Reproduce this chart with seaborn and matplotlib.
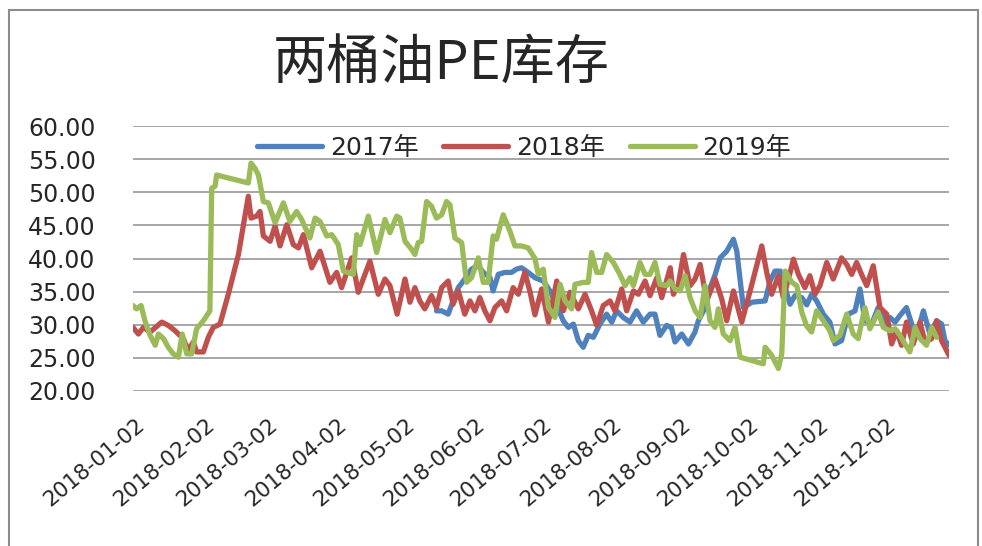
import pandas as pd
import seaborn as sns
import matplotlib.pyplot as plt
import matplotlib.transforms as mtransforms
from matplotlib.patches import Rectangle

# data: days after 2018-01-02 and inventory values
start = pd.Timestamp("2018-01-02")

days_2017 = [135, 137.3, 140.2, 142.4, 144.7, 147.6, 150.6, 153.6, 155.8, 158.8,
             160.2, 162.5, 165.4, 168.4, 170.6, 172.8, 175.8, 178.8, 182.5, 185.5,
             188.5, 191.4, 193.7, 195.9, 198.1, 200.3, 202.5, 204.8, 207.7, 210.7,
             213, 215.1, 218.1, 221.1, 224, 227, 230, 232.2, 234.4, 237.4,
             239.5, 241.1, 244.1, 247.1, 250, 251.5, 253.8, 256, 259, 261.2,
             264.1, 267.1, 268.6, 271.5, 275.3, 281.2, 283.4, 285.6, 287.9, 290.1,
             292.3, 294.5, 297.5, 299.7, 301.9, 304.1, 307.1, 310, 312.3, 315.2,
             318.2, 321.2, 323.4, 325.6, 328.6, 331.5, 334.5, 336.7, 339, 341.2,
             344.1, 346.4, 348.6, 351.6, 354.5, 357.5, 359.7, 361.2, 363]
vals_2017 = [32.1, 32.1, 31.6, 33.6, 35.6, 36.9, 38.4, 38.9, 37.9, 37.1,
             35.1, 37.6, 37.9, 37.9, 38.4, 38.6, 37.9, 37.1, 36.6, 35.1,
             32.9, 30.6, 29.6, 30.1, 27.6, 26.6, 28.4, 28.1, 30.1, 31.6,
             30.4, 32.1, 31.1, 30.4, 32.1, 30.4, 31.6, 31.6, 28.4, 29.9,
             29.6, 27.4, 28.6, 27.1, 28.9, 30.6, 32.1, 34.9, 37.6, 40.1,
             41.1, 42.9, 41.1, 32.6, 33.4, 33.6, 36.6, 38.1, 38.1, 35.6,
             33.1, 34.4, 34.1, 33.0, 34.6, 33.6, 31.6, 30.4, 27.1, 27.6,
             31.6, 32.1, 35.4, 30.6, 30.1, 32.6, 30.4, 31.1, 30.4, 31.4,
             32.6, 30.1, 28.4, 32.1, 28.6, 30.6, 30.1, 27.6, 26.9]

days_2018 = [0, 2.4, 4.6, 7.6, 12.8, 15.7, 18.7, 22.4, 24.6, 26.8,
             28.3, 31.3, 33.5, 35.7, 38.7, 42.4, 46.9, 51.3, 52.5, 55,
             56.5, 58, 61, 63.2, 65.4, 68.4, 71.3, 73.6, 75.8, 79.5,
             83.2, 87.6, 90.6, 92.8, 97.3, 100.2, 105.4, 109.1, 112.1, 114.3,
             117.5, 121, 123.2, 125.4, 127.6, 129.8, 132.8, 135, 137.3, 140.2,
             142.4, 144.7, 147.6, 149.9, 152.1, 154.3, 156.5, 158.8, 161, 164,
             166.2, 169.1, 171.4, 174.3, 176.6, 178.8, 181.8, 184.8, 188.5, 191.4,
             194.4, 198.1, 201.1, 204, 206.3, 209.2, 212.2, 214.4, 217.4, 219.6,
             222.6, 224.8, 227.8, 230, 233, 235.2, 239, 240.4, 242.6, 244.9,
             247.8, 250, 252.3, 255.2, 259, 261.9, 264.1, 267.1, 270.8, 275.3,
             279.7, 281.9, 284.1, 287.1, 289.3, 291.6, 293.8, 296, 298.9, 301.1,
             303.4, 305.6, 308.6, 311.5, 315.2, 317.5, 319.7, 321.9, 324.1, 326.4,
             329.3, 332.3, 335.3, 337.5, 339.7, 341.9, 344.1, 347.1, 350.1, 352.3,
             355.3, 357.5, 359.7, 363]
vals_2018 = [29.6, 28.6, 29.6, 28.9, 30.4, 29.9, 29.1, 27.9, 26.1, 27.4,
             25.9, 25.9, 28.1, 29.6, 30.1, 34.6, 40.6, 49.4, 46.1, 46.4,
             47.1, 43.4, 42.6, 44.9, 41.9, 45.1, 42.1, 41.6, 43.6, 38.6,
             41.1, 36.4, 37.9, 35.6, 40.1, 34.9, 39.6, 34.6, 36.9, 35.9,
             31.6, 36.9, 33.4, 35.6, 33.6, 32.4, 34.4, 32.6, 35.6, 36.6,
             33.1, 35.1, 31.6, 33.6, 32.1, 34.1, 32.1, 30.6, 32.6, 33.6,
             32.1, 35.6, 34.6, 37.9, 35.0, 31.5, 35.4, 30.4, 36.6, 32.1,
             34.9, 32.4, 34.6, 32.1, 29.9, 32.9, 33.6, 32.1, 35.4, 32.1,
             35.1, 34.6, 36.6, 34.4, 37.1, 34.1, 38.6, 34.6, 36.1, 40.6,
             35.9, 36.9, 39.1, 33.6, 36.9, 33.9, 30.6, 35.1, 30.4, 36.1,
             41.9, 37.9, 34.6, 37.4, 34.1, 36.9, 39.9, 37.6, 35.6, 37.4,
             34.6, 35.9, 39.4, 36.9, 40.1, 39.1, 37.6, 39.4, 37.6, 35.9,
             38.9, 32.6, 31.6, 27.1, 29.1, 26.9, 30.4, 27.1, 30.4, 27.4,
             27.9, 30.6, 27.6, 25.4]

days_2019 = [0, 1.5, 3.6, 5.3, 7.6, 9.9, 11.3, 13.6, 15.7, 17.9,
             20.2, 21.9, 23.9, 26.1, 28.3, 31.3, 34.2, 35, 36.5, 37.2,
             51.3, 52.5, 54.3, 55.8, 58, 60.2, 63.2, 66.9, 69.8, 72.8,
             75, 78.7, 81, 83.2, 86.2, 88.4, 91.3, 93.6, 98, 99.5,
             101, 104.7, 108.4, 112.1, 114.3, 117.3, 118.7, 121, 123.9, 125.4,
             126.9, 128.4, 130.6, 132.8, 135, 137.3, 139.5, 141, 143.2, 146.2,
             148.4, 150.6, 153.6, 155.8, 158, 160.2, 161.7, 164.7, 167.7, 169.9,
             172.8, 175.8, 178.8, 180.3, 182.5, 184.8, 187.7, 190, 192.2, 195.1,
             196.6, 200.3, 202.5, 204, 206.3, 208.5, 210.7, 213.7, 216.6, 218.9,
             221.1, 222.6, 225.5, 227.8, 230, 232.2, 234.4, 237.4, 238.9, 241.1,
             243.4, 245.6, 247.8, 250.1, 252.3, 254.5, 256.7, 258.9, 260.4, 262.6,
             265.6, 267.8, 270.1, 275.3, 280.4, 281.2, 284.1, 287.1, 288.6, 290.1,
             293.1, 295.3, 297.5, 299.7, 301.9, 304.1, 307.1, 310, 311.5, 314.5,
             317.5, 320.4, 322.6, 325.6, 327.8, 331.5, 333.8, 336.7, 339, 341.2,
             343.4, 345.6, 347.9, 350.1, 353, 355.3, 357.5]
vals_2019 = [32.9, 32.4, 32.9, 30.6, 28.4, 26.9, 28.6, 27.9, 26.6, 25.6,
             25.1, 28.6, 25.6, 25.6, 29.4, 30.6, 32.1, 50.6, 50.9, 52.6,
             51.4, 54.4, 53.6, 52.6, 48.6, 48.4, 45.4, 48.4, 45.6, 47.1,
             45.9, 43.1, 46.1, 45.6, 43.4, 43.6, 42.1, 38.1, 37.6, 43.6,
             42.1, 46.4, 40.9, 45.9, 43.9, 46.4, 46.1, 42.6, 41.4, 40.6,
             42.4, 42.6, 48.6, 47.9, 46.1, 46.6, 48.6, 48.1, 43.1, 42.4,
             36.4, 37.1, 40.1, 36.4, 36.4, 43.4, 42.9, 46.6, 44.1, 41.9,
             41.9, 41.6, 40.0, 37.6, 38.4, 32.6, 31.1, 36.1, 33.6, 32.4,
             36.1, 36.4, 36.4, 40.9, 37.9, 37.9, 40.6, 39.4, 37.6, 35.9,
             37.1, 35.9, 39.4, 37.6, 37.6, 39.4, 36.1, 35.9, 36.6, 35.4,
             35.1, 37.4, 34.1, 32.1, 31.1, 35.9, 30.6, 29.6, 32.4, 28.6,
             27.6, 29.6, 25.1, 24.6, 24.1, 26.6, 25.4, 23.4, 25.6, 38.1,
             36.4, 35.9, 31.9, 29.8, 28.9, 32.1, 30.6, 29.1, 27.6, 28.4,
             31.6, 28.6, 27.9, 32.6, 29.4, 31.9, 29.6, 29.1, 29.4, 28.4,
             27.1, 25.9, 29.6, 27.9, 26.9, 29.6, 28.1]

series_names = ["2017年", "2018年", "2019年"]
colors = ["#4F81BD", "#C0504D", "#9BBB59"]
y_ticks = [20, 25, 30, 35, 40, 45, 50, 55, 60]
x_ticks = pd.date_range("2018-01-02", periods=12, freq=pd.DateOffset(months=1))

frames = []
for name, d, v in zip(series_names, [days_2017, days_2018, days_2019],
                      [vals_2017, vals_2018, vals_2019]):
    frames.append(pd.DataFrame({"date": start + pd.to_timedelta(d, unit="D"),
                                "value": v, "year": name}))
df = pd.concat(frames, ignore_index=True)

sns.set_theme(style="white")
plt.rcParams["font.family"] = ["DejaVu Sans", "Noto Sans CJK SC"]

W, H = 982, 546
fig = plt.figure(figsize=(W / 100, H / 100), dpi=100)
ax = fig.add_axes([133 / W, 1 - 391 / H, (949 - 133) / W, (391 - 126) / H])

sns.lineplot(data=df, x="date", y="value", hue="year",
             palette=dict(zip(series_names, colors)),
             estimator=None, linewidth=3.8, ax=ax)

ax.set_xlim(start, start + pd.Timedelta(days=363))
ax.set_ylim(20, 60)
ax.set_yticks(y_ticks)
ax.set_yticklabels([f"{v:.2f}" for v in y_ticks], fontsize=17)
ax.set_xticks(x_ticks)
ax.set_xticklabels([t.strftime("%Y-%m-%d") for t in x_ticks], rotation=40,
                   ha="right", va="top", rotation_mode="anchor", fontsize=15.5)
ax.set_xlabel("")
ax.set_ylabel("")
ax.tick_params(length=0)
ax.tick_params(axis="y", pad=27)
ax.tick_params(axis="x", pad=17)
shift = mtransforms.ScaledTranslation(2 / 72, 0, fig.dpi_scale_trans)
for lab in ax.get_xticklabels():
    lab.set_transform(lab.get_transform() + shift)

ax.yaxis.grid(True, color="#A6A6A6", linewidth=1.4)
ax.xaxis.grid(False)
ax.set_axisbelow(True)
for s in ax.spines.values():
    s.set_visible(False)

# legend across the top of the plot
old = ax.get_legend()
handles = old.legend_handles
labels = [t.get_text() for t in old.get_texts()]
for h in handles:
    h.set_linewidth(3.8)
ax.legend(handles, labels, ncol=3, frameon=False, loc="center",
          bbox_to_anchor=(524 / W, 1 - 148 / H), bbox_transform=fig.transFigure,
          fontsize=18, handlelength=2.6, handletextpad=0.3, columnspacing=1.0,
          borderpad=0)

fig.text(441 / W, 1 - 64 / H, "两桶油PE库存", fontsize=39,
         family=["Noto Sans CJK SC", "DejaVu Sans"], ha="center", va="center")

# chart border
fig.patches.append(Rectangle((9 / W, -0.05), (978 - 9) / W, 1.05 - 10 / H,
                             transform=fig.transFigure, fill=False,
                             edgecolor="#8C8C8C", linewidth=1.5))

fig.savefig("out.png", dpi=100)
